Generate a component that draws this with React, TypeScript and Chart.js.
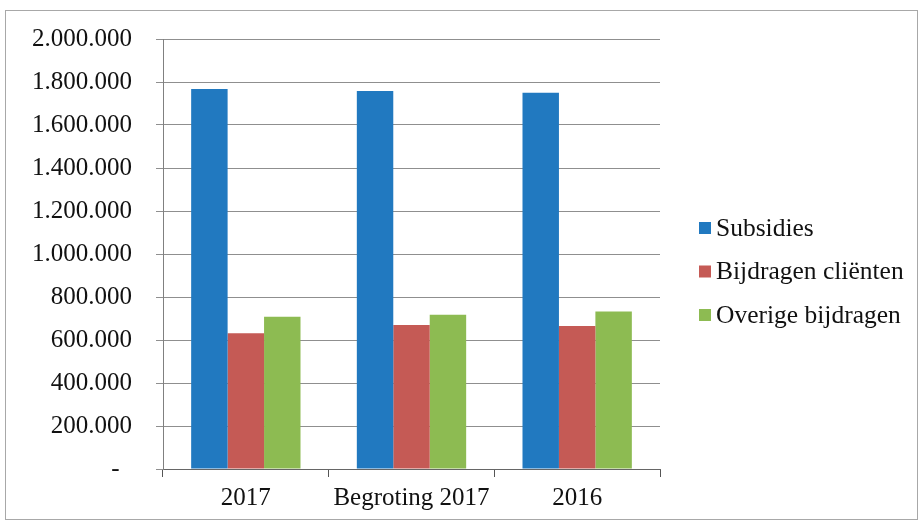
import React, { useEffect, useRef } from "react";
import { Chart, registerables } from "chart.js";

Chart.register(...registerables);

const categories = ["2017", "Begroting 2017", "2016"];
const seriesNames = ["Subsidies", "Bijdragen cliënten", "Overige bijdragen"];
const subsidies = [1767000, 1758000, 1750000];
const bijdragenClienten = [631000, 670000, 665000];
const overigeBijdragen = [708000, 718000, 733000];
const yTicks = [0, 200000, 400000, 600000, 800000, 1000000, 1200000, 1400000, 1600000, 1800000, 2000000];

const colors = ["#2179C0", "#C55A55", "#8DBB52"];
const FONT = "'Liberation Serif', 'Times New Roman', serif";
const TEXT = "#111111";

function fmt(v: number): string {
  if (v === 0) return "-  ";
  return String(Math.round(v)).replace(/\B(?=(\d{3})+(?!\d))/g, ".");
}

const framePlugin = {
  id: "frame",
  beforeDraw(chart: any) {
    const ctx = chart.ctx;
    ctx.save();
    ctx.fillStyle = "#ffffff";
    ctx.fillRect(0, 0, chart.width, chart.height);
    ctx.strokeStyle = "#a8a8a8";
    ctx.lineWidth = 1;
    ctx.strokeRect(5.5, 10.5, chart.width - 8, chart.height - 13);
    ctx.restore();
  },
};

const legendPlugin = {
  id: "customLegend",
  afterDraw(chart: any) {
    const ctx = chart.ctx;
    const area = chart.chartArea;
    ctx.save();
    ctx.font = `25.5px ${FONT}`;
    ctx.textBaseline = "middle";
    ctx.textAlign = "left";
    const x0 = area.right + 39;
    const cy = (area.top + area.bottom) / 2 + 17.5;
    chart.data.datasets.forEach((ds: any, i: number) => {
      const y = cy + (i - 1) * 43.5;
      ctx.fillStyle = ds.backgroundColor;
      ctx.fillRect(x0, y - 6, 12, 12);
      ctx.fillStyle = TEXT;
      ctx.fillText(ds.label, x0 + 17, y + 1);
    });
    ctx.restore();
  },
};

export default function App() {
  const ref = useRef<HTMLCanvasElement | null>(null);
  useEffect(() => {
    if (!ref.current) return;
    const chart = new Chart(ref.current, {
      type: "bar",
      data: {
        labels: categories,
        datasets: [
          { label: seriesNames[0], data: subsidies, backgroundColor: colors[0] },
          { label: seriesNames[1], data: bijdragenClienten, backgroundColor: colors[1] },
          { label: seriesNames[2], data: overigeBijdragen, backgroundColor: colors[2] },
        ],
      },
      options: {
        animation: false,
        responsive: false,
        maintainAspectRatio: false,
        layout: { padding: { left: 0, right: 260, top: 39, bottom: 0 } },
        datasets: { bar: { barPercentage: 1, categoryPercentage: 0.66 } } as any,
        plugins: { legend: { display: false }, tooltip: { enabled: false } },
        scales: {
          x: {
            grid: { drawOnChartArea: false, drawTicks: true, tickLength: 8, color: "#555", offset: true },
            border: { color: "#666", width: 1 },
            ticks: { font: { family: FONT, size: 25 }, color: TEXT, padding: 6, maxRotation: 0 },
            afterFit(scale: any) { scale.height = 53; },
          },
          y: {
            min: 0,
            max: 2000000,
            afterBuildTicks(scale: any) { scale.ticks = yTicks.map((v) => ({ value: v })); },
            grid: { color: "#8f8f8f", tickLength: 7, lineWidth: 1 },
            border: { color: "#808080", width: 1 },
            ticks: {
              font: { family: FONT, size: 25 },
              color: TEXT,
              padding: 24,
              callback: (v: any) => fmt(Number(v)),
            },
            afterFit(scale: any) { scale.width = 163; },
          },
        },
      },
      plugins: [framePlugin, legendPlugin],
    });
    return () => chart.destroy();
  }, []);
  return (
    <div style={{ position: "absolute", left: 0, top: 0, width: 920, height: 522 }}>
      <canvas ref={ref} width={920} height={522} style={{ width: 920, height: 522, display: "block" }} />
    </div>
  );
}
